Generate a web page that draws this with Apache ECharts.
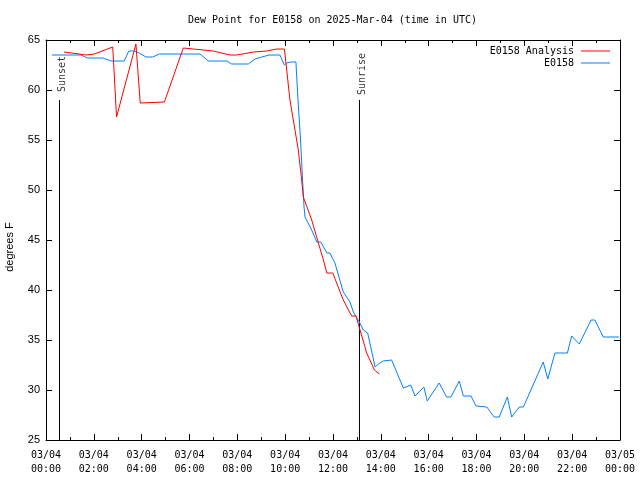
<!DOCTYPE html>
<html>
<head>
<meta charset="utf-8">
<script src="https://cdn.jsdelivr.net/npm/echarts@6/dist/echarts.min.js"></script>
<style>html,body{margin:0;padding:0;background:#fff}#c{width:640px;height:480px}</style>
</head>
<body>
<div id="c"></div>
<script>
// Hours after 03/04 00:00 UTC and dew point (°F)
var analysisHours = [0.75,1.39,1.67,2.02,2.79,2.95,3.76,3.94,4.95,5.74,6.16,7.0,7.69,7.97,8.67,9.23,9.65,9.97,10.2,10.55,10.69,10.76,11.11,11.39,11.6,11.74,11.99,12.43,12.78,12.96,13.41,13.73,13.94];
var analysisValues = [63.8,63.6,63.5,63.6,64.3,57.3,64.6,58.7,58.8,64.2,64.1,63.9,63.5,63.5,63.8,63.9,64.1,64.1,59.0,54.0,51.0,49.3,47.0,44.7,43.0,41.7,41.7,39.0,37.4,37.4,33.7,32.0,31.6];

var obsHours = [0.25,1.46,1.74,2.37,2.72,3.27,3.46,3.69,3.9,4.18,4.46,4.74,6.44,6.79,7.56,7.76,8.46,8.74,9.02,9.34,9.78,9.97,10.06,10.23,10.45,10.52,10.65,10.72,10.79,10.83,11.11,11.32,11.49,11.74,11.87,12.08,12.43,12.71,12.85,13.1,13.27,13.45,13.76,13.9,14.1,14.45,14.94,15.25,15.43,15.8,15.94,16.44,16.75,16.93,17.28,17.45,17.77,17.98,18.43,18.74,18.95,19.29,19.47,19.79,19.96,20.79,20.98,21.28,21.8,21.98,22.3,22.79,22.95,23.3,23.97];
var obsValues = [63.5,63.5,63.2,63.2,62.9,62.9,63.9,63.9,63.7,63.3,63.3,63.6,63.6,62.9,62.9,62.6,62.6,63.1,63.3,63.5,63.5,62.5,62.7,62.8,62.8,59.7,54.7,51.3,48.3,47.3,46.0,44.8,44.8,43.7,43.7,42.7,39.8,38.8,37.8,36.8,36.0,35.7,32.3,32.6,32.9,33.0,30.2,30.5,29.4,30.3,28.9,30.7,29.3,29.3,30.9,29.4,29.4,28.4,28.3,27.3,27.3,29.3,27.3,28.3,28.3,32.8,31.1,33.7,33.7,35.4,34.6,37.0,37.0,35.3,35.3];

var xTickLabels = ['03/04\n00:00','03/04\n02:00','03/04\n04:00','03/04\n06:00','03/04\n08:00','03/04\n10:00','03/04\n12:00','03/04\n14:00','03/04\n16:00','03/04\n18:00','03/04\n20:00','03/04\n22:00','03/05\n00:00'];
var sunEvents = ['Sunset','Sunrise'];
var sunHours = [0.565,13.107];
var sunLineTop = 59.0;
var sunLabelCenter = 61.7;

function pairs(xs, ys){ return xs.map(function(x,i){ return [x, ys[i]]; }); }

var mono = 'DejaVu Sans Mono';
var sans = 'Liberation Sans';
var series = [
  {name:'E0158 Analysis', type:'line', data: pairs(analysisHours, analysisValues), showSymbol:false, symbol:'none', lineStyle:{width:1,color:'#ff0000'}, itemStyle:{color:'#ff0000'}, z:3},
  {name:'E0158', type:'line', data: pairs(obsHours, obsValues), showSymbol:false, symbol:'none', lineStyle:{width:1,color:'#0080ff'}, itemStyle:{color:'#0080ff'}, z:2}
];
sunEvents.forEach(function(name,i){
  series.push({type:'line', data:[[sunHours[i], sunLineTop],[sunHours[i], 25]], symbol:'none', lineStyle:{width:1,color:'#000'}, silent:true, z:1});
  series.push({type:'scatter', data:[[sunHours[i], sunLabelCenter]], symbolSize:0, silent:true,
    label:{show:true, formatter:name, position:'inside', rotate:90, offset:[-1,3], color:'#000', fontFamily:mono, fontSize:10}});
});

var chart = echarts.init(document.getElementById('c'), null, {renderer:'canvas'});
chart.setOption({
  animation:false,
  backgroundColor:'#fff',
  title:{text:'Dew Point for E0158 on 2025-Mar-04 (time in UTC)', left:183, top:10,
    textStyle:{fontFamily:mono, fontSize:10, fontWeight:'normal', color:'#000'}},
  legend:{data:['E0158 Analysis','E0158'], orient:'vertical', right:30, top:45, align:'right', padding:0,
    icon:'rect', itemWidth:29, itemHeight:1, itemGap:0,
    textStyle:{fontFamily:mono, fontSize:10, color:'#000', lineHeight:12, padding:[0,2,0,0]}},
  grid:{left:46, right:20, top:40, bottom:40, containLabel:false, outerBoundsMode:'none'},
  xAxis:[
    {type:'value', min:0, max:24, interval:2, position:'bottom',
      axisLine:{show:true, onZero:false, lineStyle:{color:'#000', width:1}},
      axisTick:{show:true, inside:true, length:6, lineStyle:{color:'#000'}},
      minorTick:{show:true, splitNumber:2, length:3, lineStyle:{color:'#000'}},
      splitLine:{show:false},
      axisLabel:{color:'#000', fontFamily:mono, fontSize:10, lineHeight:14, margin:8,
        formatter:function(v){ return xTickLabels[Math.round(v/2)]; }}},
    {type:'value', min:0, max:24, interval:2, position:'top',
      axisLine:{show:true, onZero:false, lineStyle:{color:'#000', width:1}},
      axisTick:{show:true, inside:true, length:6, lineStyle:{color:'#000'}},
      minorTick:{show:true, splitNumber:2, length:3, lineStyle:{color:'#000'}},
      splitLine:{show:false}, axisLabel:{show:false}}
  ],
  yAxis:[
    {type:'value', min:25, max:65, interval:5, position:'left',
      name:'degrees F', nameLocation:'middle', nameGap:31,
      nameTextStyle:{fontFamily:sans, fontSize:11, color:'#000', padding:[0,14,0,0]},
      axisLine:{show:true, onZero:false, lineStyle:{color:'#000', width:1}},
      axisTick:{show:true, inside:true, length:6, lineStyle:{color:'#000'}},
      splitLine:{show:false},
      axisLabel:{color:'#000', fontFamily:sans, fontSize:11, margin:6}},
    {type:'value', min:25, max:65, interval:5, position:'right',
      axisLine:{show:true, onZero:false, lineStyle:{color:'#000', width:1}},
      axisTick:{show:true, inside:true, length:6, lineStyle:{color:'#000'}},
      splitLine:{show:false}, axisLabel:{show:false}}
  ],
  series: series
});
</script>
</body>
</html>
